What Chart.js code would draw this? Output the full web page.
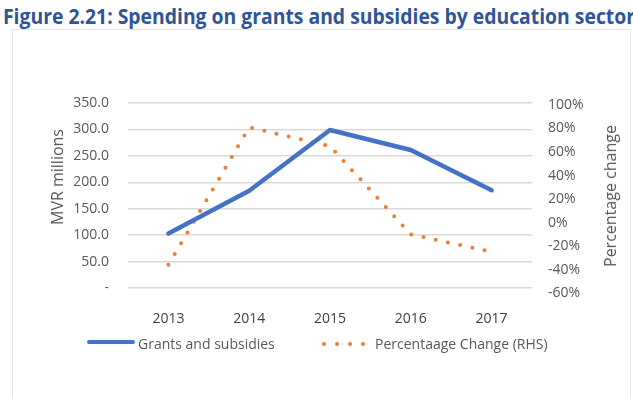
<!DOCTYPE html>
<html>
<head>
    <title>Grants and subsidies</title>
    <script src="https://cdn.jsdelivr.net/npm/chart.js"></script>
    <style>
        body { margin: 0; width: 633px; height: 397px; overflow: hidden; background: #fff; position: relative; font-family: "Open Sans", sans-serif; }
        .heading { position: absolute; left: 3px; top: 2px; white-space: nowrap; font-weight: bold; font-size: 21px; color: #2f5597; transform-origin: 0 0; }
        .frame { position: absolute; left: 12px; top: 29px; width: 617px; height: 400px; border: 1px solid #e6e6e6; }
        .chart-container { position: absolute; left: 0; top: 0; width: 633px; height: 397px; }
        .axis-title { position: absolute; white-space: nowrap; font-size: 16px; color: #595959; transform: translate(-50%, -50%) rotate(-90deg); }
        .legend-item { position: absolute; font-size: 14px; color: #595959; white-space: nowrap; }
        .swatch-line { position: absolute; height: 4px; border-radius: 2px; background: #4472c4; }
        .swatch-dot { position: absolute; width: 4px; height: 4px; border-radius: 2px; background: #ed7d31; }
    </style>
</head>
<body>
    <div class="heading" id="heading">Figure 2.21: Spending on grants and subsidies by education sector</div>
    <div class="frame"></div>
    <div class="chart-container">
        <canvas id="grantsChart" width="633" height="397"></canvas>
    </div>
    <div class="axis-title" style="left:57px; top:177px;">MVR millions</div>
    <div class="axis-title" style="left:610px; top:196px;">Percentage change</div>
    <div id="legend"></div>

    <script>
var years = ['2013', '2014', '2015', '2016', '2017'];
var grants = [103, 184, 299, 261, 185];          // MVR millions
var pctChange = [-36, 81, 65, -10, -25];         // percent, right axis
var leftTicks = [0, 50, 100, 150, 200, 250, 300, 350];
var rightTicks = [-60, -40, -20, 0, 20, 40, 60, 80, 100];
var seriesNames = ['Grants and subsidies', 'Percentaage Change (RHS)'];

var tickFont = { family: 'Open Sans', size: 14 };

function fitHeading() {
    var el = document.getElementById('heading');
    var w = el.getBoundingClientRect().width;
    el.style.transform = 'scaleX(' + (632 / w) + ')';
}

function buildLegend() {
    var legend = document.getElementById('legend');
    var line = document.createElement('div');
    line.className = 'swatch-line';
    line.style.left = '87px';
    line.style.top = '340px';
    line.style.width = '48px';
    legend.appendChild(line);

    var t1 = document.createElement('div');
    t1.className = 'legend-item';
    t1.style.left = '138px';
    t1.style.top = '334px';
    t1.textContent = seriesNames[0];
    legend.appendChild(t1);

    for (var i = 0; i < 4; i++) {
        var d = document.createElement('div');
        d.className = 'swatch-dot';
        d.style.left = (322 + i * 13) + 'px';
        d.style.top = '342px';
        legend.appendChild(d);
    }

    var t2 = document.createElement('div');
    t2.className = 'legend-item';
    t2.style.left = '375px';
    t2.style.top = '334px';
    t2.textContent = seriesNames[1];
    legend.appendChild(t2);
}

function generateGrantsChart() {
    var el = document.getElementById('grantsChart');
    return new Chart(el, {
        type: 'line',
        data: {
            labels: years,
            datasets: [
                {
                    label: seriesNames[0],
                    data: grants,
                    yAxisID: 'y',
                    borderColor: '#4472c4',
                    borderWidth: 4.5,
                    pointRadius: 0,
                    tension: 0,
                    borderCapStyle: 'round',
                    borderJoinStyle: 'round'
                },
                {
                    label: seriesNames[1],
                    data: pctChange,
                    yAxisID: 'y1',
                    borderColor: '#ed7d31',
                    borderWidth: 4,
                    borderDash: [0, 12.5],
                    borderCapStyle: 'round',
                    pointRadius: 0,
                    tension: 0
                }
            ]
        },
        options: {
            responsive: false,
            animation: false,
            layout: { padding: { top: 103, left: 0, right: 0, bottom: 0 } },
            plugins: { legend: { display: false }, tooltip: { enabled: false } },
            scales: {
                x: {
                    offset: true,
                    grid: { display: false, drawTicks: false },
                    border: { display: false },
                    ticks: { color: '#404040', font: tickFont, padding: 23 },
                    afterFit: function (scale) { scale.height = 109; }
                },
                y: {
                    position: 'left',
                    min: 0,
                    max: 350,
                    afterBuildTicks: function (scale) {
                        scale.ticks = leftTicks.map(function (v) { return { value: v }; });
                    },
                    grid: { color: '#d9d9d9', lineWidth: 1.5, drawTicks: false },
                    border: { display: false },
                    ticks: {
                        color: '#595959',
                        font: tickFont,
                        padding: 19,
                        callback: function (v) { return v === 0 ? '-' : v.toFixed(1); }
                    },
                    afterFit: function (scale) { scale.width = 128; }
                },
                y1: {
                    position: 'right',
                    min: -55.7,
                    max: 101.7,
                    afterBuildTicks: function (scale) {
                        scale.ticks = rightTicks.map(function (v) { return { value: v }; });
                    },
                    grid: { display: false, drawTicks: false },
                    border: { display: false },
                    ticks: {
                        color: '#595959',
                        font: tickFont,
                        padding: 16,
                        callback: function (v) { return v + '%'; }
                    },
                    afterFit: function (scale) { scale.width = 101; }
                }
            }
        }
    });
}

document.addEventListener('DOMContentLoaded', function () {
    fitHeading();
    buildLegend();
    generateGrantsChart();
});
    </script>
</body>
</html>
